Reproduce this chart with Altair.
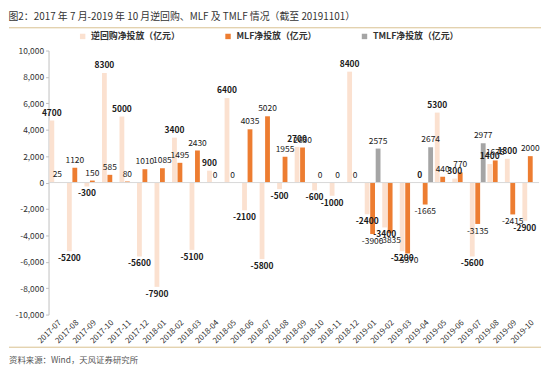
import altair as alt
import pandas as pd

months = ["2017-07", "2017-08", "2017-09", "2017-10", "2017-11", "2017-12",
          "2018-01", "2018-02", "2018-03", "2018-04", "2018-05", "2018-06",
          "2018-07", "2018-08", "2018-09", "2018-10", "2018-11", "2018-12",
          "2019-01", "2019-02", "2019-03", "2019-04", "2019-05", "2019-06",
          "2019-07", "2019-08", "2019-09", "2019-10"]
repo = [4700, -5200, -300, 8300, 5000, -5600,
        -7900, 3400, -5100, 900, 6400, -2100,
        -5800, -500, 2700, -600, -1000, 8400,
        -2400, -3400, -5200, 0, 5300, 300,
        -5600, 1400, 1800, -2900]
mlf = [25, 1120, 150, 585, 80, 1010,
       1085, 1495, 2430, 0, 0, 4035,
       5020, 1955, 2650, 0, 0, 0,
       -3900, -3835, -5370, -1665, 440, 770,
       -3135, 1675, -2415, 2000]
tmlf = [None] * 18 + [2575, None, None, 2674, None, None, 2977, None, None, None]

series_names = ["逆回购净投放（亿元）", "MLF净投放（亿元）", "TMLF净投放（亿元）"]
series_colors = ["#FBE1D0", "#ED7D31", "#A5A5A5"]
y_ticks = [-10000, -8000, -6000, -4000, -2000, 0, 2000, 4000, 6000, 8000, 10000]

title_text = "图2：2017 年 7 月-2019 年 10 月逆回购、MLF 及 TMLF 情况（截至 20191101）"
source_text = "资料来源：Wind，天风证券研究所"

rows = []
for i, m in enumerate(months):
    for name, vals in zip(series_names, [repo, mlf, tmlf]):
        v = vals[i]
        if v is None:
            continue
        rows.append({"month": m, "series": name, "value": v, "label": str(v),
                     "bold": 1 if name == series_names[0] else 0})
df = pd.DataFrame(rows)

W, H = 496, 267
FONT = "Noto Sans CJK SC"

x_enc = alt.X("month:N", sort=months, title=None,
              scale=alt.Scale(paddingInner=0.1, paddingOuter=0.05),
              axis=alt.Axis(labelAngle=-45, labelFontSize=8, labelColor="#333333",
                            domain=False, ticks=False, labelPadding=4, labelFont=FONT))
xo_enc = alt.XOffset("series:N", sort=series_names,
                     scale=alt.Scale(domain=series_names, paddingInner=0.12))
y_scale = alt.Scale(domain=[-10000, 10000], nice=False)
y_axis = alt.Axis(values=y_ticks, grid=False, domainColor="#bfbfbf",
                  tickColor="#bfbfbf", tickSize=3, labelFontSize=8.5,
                  labelColor="#333333", labelFont=FONT, labelOverlap=False,
                  labelExpr="replace(format(datum.value, ',d'), '\u2212', '-')")

base = alt.Chart(df)

bars = base.mark_bar().encode(
    x=x_enc,
    xOffset=xo_enc,
    y=alt.Y("value:Q", scale=y_scale, title=None, axis=y_axis),
    color=alt.Color("series:N", sort=series_names,
                    scale=alt.Scale(domain=series_names, range=series_colors),
                    legend=alt.Legend(title=None, orient="none", direction="horizontal",
                                      legendX=30, legendY=-19, symbolType="square",
                                      symbolSize=30, symbolStrokeWidth=0,
                                      labelFontSize=9, labelFontWeight="bold",
                                      labelColor="#333333", labelFont=FONT,
                                      columnPadding=43, labelLimit=200)),
)

zero = alt.Chart(alt.Data(values=[{"v": 0}])).mark_rule(color="#d9d9d9", strokeWidth=1).encode(
    y=alt.Y("v:Q", scale=y_scale, title=None, axis=y_axis)
)

def labels(filter_expr, baseline, dy, weight):
    return base.transform_filter(filter_expr).mark_text(
        baseline=baseline, dy=dy, fontSize=8.5, font=FONT, color="#1a1a1a",
        fontWeight=weight
    ).encode(
        x=alt.X("month:N", sort=months),
        xOffset=alt.XOffset("series:N", sort=series_names),
        y=alt.Y("value:Q", scale=y_scale, title=None, axis=y_axis),
        text="label:N",
    )

label_layers = [
    labels("datum.value >= 0 && datum.bold == 1", "bottom", -3, "bold"),
    labels("datum.value < 0 && datum.bold == 1", "top", 3, "bold"),
    labels("datum.value >= 0 && datum.bold == 0", "bottom", -3, "normal"),
    labels("datum.value < 0 && datum.bold == 0", "top", 3, "normal"),
]

deco = alt.Data(values=[{"k": 1}])
top_line = alt.Chart(deco).mark_rule(color="#D9C08F", strokeWidth=1).encode(
    x=alt.value(-40), x2=alt.value(W + 2), y=alt.value(-23))
bottom_line = alt.Chart(deco).mark_rule(color="#D9C08F", strokeWidth=1).encode(
    x=alt.value(-40), x2=alt.value(W + 2), y=alt.value(H + 33))
source = alt.Chart(deco).mark_text(align="left", baseline="middle", fontSize=8.5,
                                   font=FONT, color="#555555", text=source_text).encode(
    x=alt.value(-40), y=alt.value(H + 46))

chart = alt.layer(bars, zero, *label_layers, top_line, bottom_line, source).properties(
    width=W, height=H, padding={"left": 0, "top": 2, "right": 0, "bottom": 0},
    title=alt.Title(title_text, anchor="start", frame="bounds", fontSize=10,
                    fontWeight="normal", font=FONT, color="#333333", offset=5),
).configure_view(stroke=None)

chart.save("out.html", embed_options={"renderer": "svg", "actions": False})
